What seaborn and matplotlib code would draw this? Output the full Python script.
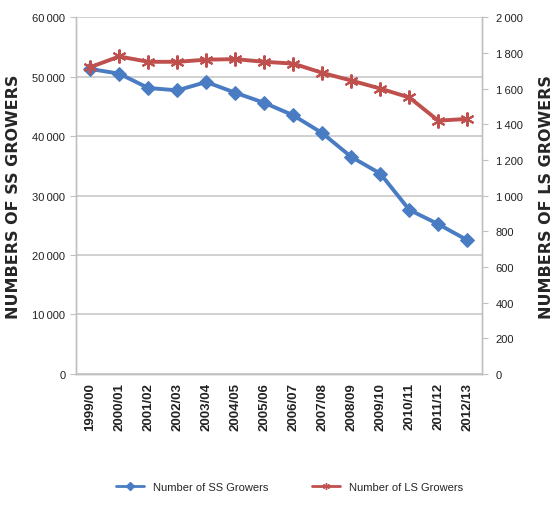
import pandas as pd
import seaborn as sns
import matplotlib.pyplot as plt
from matplotlib.lines import Line2D
from matplotlib.ticker import FuncFormatter, MultipleLocator

seasons = ['1999/00', '2000/01', '2001/02', '2002/03', '2003/04', '2004/05',
           '2005/06', '2006/07', '2007/08', '2008/09', '2009/10', '2010/11',
           '2011/12', '2012/13']
ss_growers = [51300, 50500, 48100, 47700, 49100, 47300, 45600, 43500,
              40500, 36500, 33700, 27600, 25200, 22500]
ls_growers = [1720, 1780, 1750, 1750, 1762, 1765, 1750, 1740, 1688, 1645,
              1600, 1550, 1420, 1430]

BLUE = '#4a7cc3'
RED = '#c0504d'


def thousands(v, pos):
    v = int(round(v))
    if v >= 1000:
        return f'{v // 1000}\u2009{v % 1000:03d}'
    return str(v)


def main():
    sns.set_style('white')
    plt.rcParams['font.family'] = ['Liberation Sans', 'DejaVu Sans']

    df = pd.DataFrame({'season': seasons, 'ss': ss_growers, 'ls': ls_growers})

    fig = plt.figure(figsize=(5.57, 5.06), dpi=100)
    ax = fig.add_axes([0.136, 0.259, 0.729, 0.705])
    ax2 = ax.twinx()

    sns.lineplot(data=df, x='season', y='ss', ax=ax, color=BLUE, lw=2.8,
                 marker='D', markersize=7, markeredgecolor=BLUE, sort=False)
    sns.lineplot(data=df, x='season', y='ls', ax=ax2, color=RED, lw=2.8,
                 marker=(6, 2, 0), markersize=10, markeredgewidth=1.5,
                 markeredgecolor=RED, sort=False)

    ax.set_xlim(-0.5, len(seasons) - 0.5)
    ax.set_ylim(0, 60000)
    ax2.set_ylim(0, 2000)
    ax.yaxis.set_major_locator(MultipleLocator(10000))
    ax2.yaxis.set_major_locator(MultipleLocator(200))
    ax.yaxis.set_major_formatter(FuncFormatter(thousands))
    ax2.yaxis.set_major_formatter(FuncFormatter(thousands))

    ax.grid(axis='y', color='#c8c8c8', lw=1.2)
    ax.set_axisbelow(True)

    for a in (ax, ax2):
        for side, sp in a.spines.items():
            sp.set_color('#c0c0c0')
            sp.set_linewidth(1)
        a.spines['top'].set_visible(False)

    ax.set_xticks(range(len(seasons)))
    ax.set_xticklabels(seasons, rotation=90, fontsize=9.5, fontweight='bold',
                       color='#222222')
    ax.tick_params(axis='x', length=0, pad=6)
    ax.set_xticks([i + 0.5 for i in range(-1, len(seasons))], minor=True)
    ax.tick_params(axis='x', which='minor', length=4, color='#c0c0c0')
    ax.tick_params(axis='y', labelsize=8, length=4, color='#c0c0c0',
                   labelcolor='#222222', left=True)
    ax2.tick_params(axis='y', labelsize=8, length=4, color='#c0c0c0',
                    labelcolor='#222222', right=True, pad=6)

    ax.set_xlabel('')
    ax.set_ylabel('NUMBERS OF SS GROWERS', fontsize=11.5, fontweight='bold',
                  family='DejaVu Sans')
    ax2.set_ylabel('NUMBERS OF LS GROWERS', fontsize=11.5, fontweight='bold',
                   family='DejaVu Sans')
    ax.yaxis.set_label_coords(-0.135, 0.5)
    ax2.yaxis.set_label_coords(1.14, 0.5)

    handles = [
        Line2D([], [], color=BLUE, lw=2, marker='D', markersize=4),
        Line2D([], [], color=RED, lw=2, marker=(6, 2, 0), markersize=5),
    ]
    fig.legend(handles, ['Number of SS Growers', 'Number of LS Growers'],
               loc='center', bbox_to_anchor=(0.52, 0.035), ncol=2,
               frameon=False, fontsize=8, handlelength=2.5, columnspacing=4)

    plt.savefig('out.png', dpi=100)


if __name__ == '__main__':
    main()
